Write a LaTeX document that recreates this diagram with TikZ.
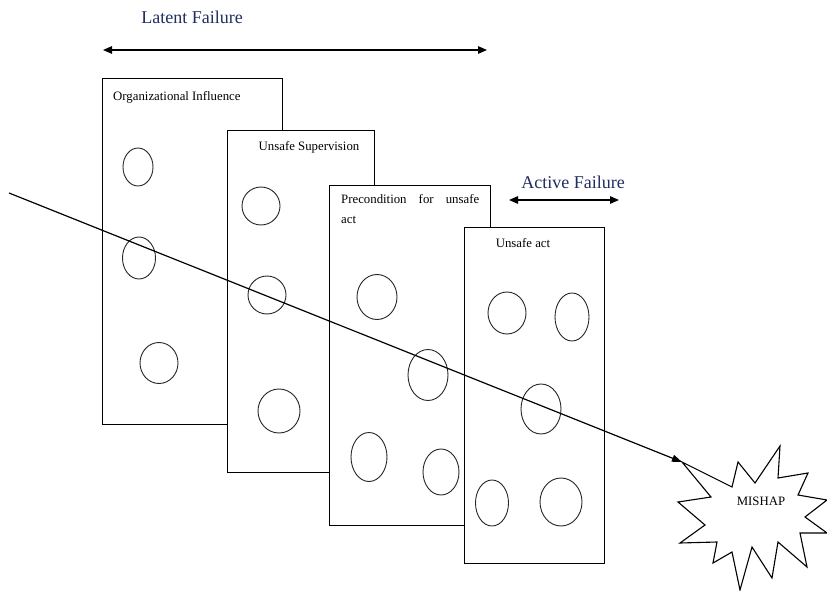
\documentclass[tikz,border=0pt]{standalone}
\usepackage{fontspec}
\setmainfont{Liberation Serif}
\usetikzlibrary{arrows.meta,shapes.geometric}
\definecolor{navy}{RGB}{31,45,95}
\tikzset{
  layer/.style={draw=black,line width=1.1pt,fill=white,anchor=north west,inner sep=0pt},
  hole/.style={draw=black!85,line width=0.9pt,ellipse,inner sep=0pt},
  lbl/.style={font=\fontsize{12.8}{15}\selectfont,inner sep=0pt},
  head/.style={font=\fontsize{18}{21}\selectfont,text=navy,inner sep=0pt},
  span/.style={line width=1.3pt,{Triangle[length=9pt,width=7.5pt]}-{Triangle[length=9pt,width=7.5pt]}}
}
\newcommand{\hole}[5]{\node[hole,minimum width=#3pt,minimum height=#4pt] (#5) at (#1,#2) {};}
\begin{document}
\begin{tikzpicture}[x=1pt,y=-1pt]
\useasboundingbox (0,0) rectangle (827,591);
% headings
\node[head] (latent) at (192,17) {Latent Failure};
\coordinate (la) at (103,50);
\coordinate (lb) at (487,50);
\draw[span] (la) -- (lb);
\node[head] (active) at (573,182) {Active Failure};
\coordinate (aa) at (509,200);
\coordinate (ab) at (619,200);
\draw[span,line width=1.2pt] (aa) -- (ab);
% layer 1
\node[layer,minimum width=180pt,minimum height=346pt] (b1) at (102,78) {};
\node[lbl,anchor=west] (t1) at (113,97) {Organizational Influence};
\hole{138}{167}{30}{38}{c11}
\hole{139}{258}{33}{42}{c12}
\hole{159}{363}{38}{41}{c13}
% layer 2
\node[layer,minimum width=147pt,minimum height=342pt] (b2) at (227,130) {};
\node[lbl] (t2) at (309,147) {Unsafe Supervision};
\hole{261}{206}{38}{38}{c21}
\hole{267}{295}{38}{38}{c22}
\hole{279}{411}{42}{44}{c23}
% layer 3
\node[layer,minimum width=161pt,minimum height=340pt] (b3) at (329,185) {};
\node[lbl,anchor=north west,text width=138pt,align=left,font=\fontsize{12.8}{20}\selectfont] (t3) at (341,194) {Precondition\hfill for\hfill unsafe\\act};
\hole{377}{297}{40}{45}{c31}
\hole{428}{375}{40}{51}{c32}
\hole{369}{457}{36}{49}{c33}
\hole{441}{472}{36}{46}{c34}
% layer 4
\node[layer,minimum width=140pt,minimum height=336pt] (b4) at (464,227) {};
\node[lbl] (t4) at (523,243) {Unsafe act};
\hole{507}{313}{38}{42}{c41}
\hole{572}{317}{34}{48}{c42}
\hole{541}{409}{40}{50}{c43}
\hole{492}{503}{33}{46}{c44}
\hole{561}{502}{42}{48}{c45}
% mishap star
\draw[line width=1.1pt,fill=white,line join=miter]
 (682,462) -- (732,487) -- (738,462) -- (755,483) -- (780,446) -- (778,478)
 -- (808,473) -- (798,495) -- (827,500) -- (805,517) -- (827,533) -- (800,533)
 -- (807,567) -- (778,542) -- (772,578) -- (752,547) -- (740,590) -- (732,552)
 -- (713,563) -- (717,542) -- (680,543) -- (705,525) -- (678,502) -- (711,497) -- cycle;
\coordinate (tip) at (682,462);
\node[lbl] (mishap) at (761,501) {MISHAP};
% trajectory
\coordinate (start) at (9,193);
\draw[line width=1.2pt,-{Triangle[length=10pt,width=7pt]}] (start) -- (tip);
\end{tikzpicture}
\end{document}
